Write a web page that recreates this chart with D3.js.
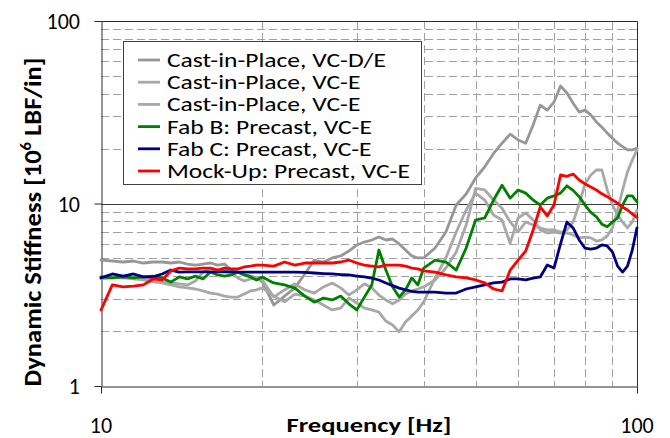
<!DOCTYPE html>
<html><head><meta charset="utf-8">
<script src="https://cdn.jsdelivr.net/npm/d3@7"></script>
<style>html,body{margin:0;padding:0;background:#fff}svg{display:block}</style>
</head><body>
<svg id="c" width="670" height="438"></svg>
<script>
// ---------- data ----------
const freqs = [10,10.5,11,11.5,12,12.5,13,13.5,14,14.5,15,15.5,16,16.5,17,17.5,18,18.5,19,19.5,20,
  21,22,23,24,25,26,27,28,29,30,31,32,33,34,35,36,37,38,39,40,
  42,44,46,48,50,52,54,56,58,60,62,64,66,68,70,72,74,76,78,80,82,84,86,88,90,92,94,96,98,100];

const seriesNames = ["Cast-in-Place, VC-D/E","Cast-in-Place, VC-E","Cast-in-Place, VC-E",
  "Fab B: Precast, VC-E","Fab C: Precast, VC-E","Mock-Up: Precast, VC-E"];
const seriesColors = ["#979797","#a8a8a8","#a8a8a8","#008000","#000080","#ff0000"];

const castDE = [4.90,4.84,4.78,4.84,4.72,4.78,4.78,4.72,4.78,4.66,4.60,4.66,4.72,4.60,4.66,4.32,4.21,4.06,4.01,3.91,3.72,
  2.78,3.11,3.45,4.11,4.90,4.78,5.03,5.16,5.49,5.92,6.15,6.31,6.55,6.31,6.39,6.00,5.56,5.16,5.03,5.03,
  5.70,6.98,9.81,11.27,13.8,15.9,18.8,21.4,24.0,22.3,21.4,26.9,34.6,32.5,35.9,44.0,40.3,35.4,31.7,32.5,30.6,28.0,26.2,24.3,22.8,21.4,20.5,19.65,19.65,20.1];

const castE1 = [3.96,3.96,3.91,3.86,3.81,3.72,3.67,3.58,3.49,3.45,3.40,3.32,3.23,3.19,3.11,3.07,3.07,3.19,3.32,3.36,3.45,
  3.11,2.89,3.19,3.11,2.96,2.78,2.61,2.67,3.03,2.85,2.67,2.61,2.54,2.27,2.16,1.98,2.24,2.42,2.61,2.89,
  3.91,5.03,6.98,9.21,11.4,10.45,8.65,8.12,6.06,8.33,8.88,8.12,7.16,6.89,6.98,6.89,7.16,7.92,9.93,12.8,14.33,15.26,15.26,11.86,9.81,8.65,7.92,7.35,7.92,9.21];

const castE2 = [3.86,3.91,3.91,3.96,3.91,3.81,3.72,3.67,3.63,3.58,3.76,4.21,4.43,4.32,4.32,4.16,3.91,3.76,3.86,3.91,3.81,
  3.07,3.36,3.63,3.36,3.23,3.49,3.67,3.45,3.15,3.36,3.63,3.45,3.15,2.96,2.82,2.96,3.19,3.32,3.40,3.49,
  3.81,4.43,5.42,7.62,12.1,11.86,10.45,9.41,7.92,6.98,7.92,7.62,7.35,7.16,7.16,6.98,6.89,6.72,6.48,6.55,6.48,6.23,6.31,6.64,7.35,9.21,11.86,14.9,17.3,19.65];

const fabB = [3.96,3.91,3.96,3.91,3.96,4.00,3.91,3.71,3.96,3.86,4.00,3.86,4.21,4.06,4.00,4.06,4.21,4.06,3.96,3.81,3.96,
  3.67,3.58,3.44,3.11,2.88,3.03,2.96,3.11,2.82,2.61,3.07,3.58,5.56,4.32,3.49,3.07,3.36,3.91,3.58,4.43,
  4.90,4.78,4.32,5.70,8.12,8.33,10.45,12.6,10.7,11.86,11.4,10.45,9.8,10.7,11.0,11.4,12.5,11.8,10.9,9.8,8.95,8.44,7.7,7.45,7.92,8.33,9.8,11.0,11.0,10.2];

const fabC = [3.91,4.11,4.00,4.11,3.96,3.96,4.11,4.32,4.21,4.22,4.22,4.22,4.22,4.22,4.22,4.22,4.21,4.21,4.21,4.21,4.21,
  4.21,4.21,4.21,4.19,4.16,4.13,4.11,4.08,4.06,4.00,3.96,3.90,3.81,3.67,3.55,3.44,3.36,3.30,3.27,3.27,
  3.27,3.23,3.23,3.40,3.49,3.58,3.67,3.71,3.86,3.86,3.81,3.90,3.96,4.60,4.43,6.00,7.92,7.35,6.31,5.70,5.63,5.70,5.93,5.85,5.42,4.54,4.21,4.54,5.56,7.35];

const mockUp = [2.61,3.58,3.49,3.53,3.58,3.86,3.81,4.27,4.43,4.38,4.38,4.43,4.43,4.32,4.43,4.38,4.38,4.49,4.54,4.60,4.60,
  4.54,4.78,4.60,4.72,4.72,4.72,4.72,4.78,4.90,4.72,4.60,4.54,4.49,4.60,4.60,4.60,4.54,4.43,4.38,4.27,
  4.21,4.06,3.96,3.91,3.81,3.67,3.40,3.32,4.32,4.90,5.49,7.16,9.57,8.55,9.81,14.33,14.1,14.5,13.45,12.8,12.3,11.86,11.3,10.9,10.45,10.05,9.57,9.21,8.76,8.4];

const seriesValues = [castDE, castE1, castE2, fabB, fabC, mockUp];

const xTickValues = [10, 100];
const yTickValues = [1, 10, 100];
const xTitle = "Frequency [Hz]";
const yTitleParts = ["Dynamic Stiffness [10", "6", " LBF/in]"];

// ---------- layout ----------
const FONT = "Carlito, Lato, 'Noto Sans', sans-serif";
const X0 = 101, X1 = 637, Y0 = 386, Y1 = 21;
const svg = d3.select("#c");
const x = d3.scaleLog().domain([10, 100]).range([X0, X1]);
const y = d3.scaleLog().domain([1, 100]).range([Y0, Y1]);
const px = v => Math.round(v) + 0.5;

// grid
const minorX = x.ticks().filter(v => xTickValues.indexOf(v) < 0);
const minorY = y.ticks().filter(v => yTickValues.indexOf(v) < 0);
const grid = svg.append("g");
grid.selectAll("line.gy").data(minorY).join("line").attr("class","gy")
  .attr("x1", X0).attr("x2", X1).attr("y1", d => px(y(d))).attr("y2", d => px(y(d)))
  .attr("stroke", "#a0a0a0").attr("stroke-width", 1).attr("stroke-dasharray", "8,4");
grid.selectAll("line.gx").data(minorX).join("line").attr("class","gx")
  .attr("y1", Y1).attr("y2", Y0).attr("x1", d => px(x(d))).attr("x2", d => px(x(d)))
  .attr("stroke", "#a0a0a0").attr("stroke-width", 1).attr("stroke-dasharray", "8,4");
grid.append("line").attr("x1", X0).attr("x2", X1).attr("y1", px(y(10))).attr("y2", px(y(10)))
  .attr("stroke", "#3a3a3a").attr("stroke-width", 1);

// frame (top/right)
svg.append("path").attr("d", `M${px(X0)},${px(Y1)}H${px(X1)}V${px(Y0)}`)
  .attr("fill", "none").attr("stroke", "#2a2a2a").attr("stroke-width", 1);

// axes
const axL = svg.append("g").attr("transform", `translate(${px(X0)},0)`)
  .call(d3.axisLeft(y).tickValues(yTickValues).tickSize(7).tickSizeOuter(0).tickFormat(""));
const axB = svg.append("g").attr("transform", `translate(0,${px(Y0)})`)
  .call(d3.axisBottom(x).tickValues(xTickValues).tickSize(7).tickSizeOuter(0).tickFormat(""));
[axL, axB].forEach(a => { a.selectAll("path,line").attr("stroke", "#2a2a2a").attr("stroke-width", 1); });

// lines
const line = d3.line().x(d => x(d[0])).y(d => y(d[1]));
const plot = svg.append("g");
seriesValues.forEach((vals, i) => {
  const pts = freqs.map((f, k) => [f, vals[k]]);
  plot.append("path").datum(pts).attr("d", line)
    .attr("fill", "none").attr("stroke", seriesColors[i]).attr("stroke-width", 2.8)
    .attr("stroke-linejoin", "round").attr("stroke-linecap", "round");
});

// tick labels (plain positioned text)
const tl = svg.append("g").attr("font-family", FONT).attr("font-size", 22).attr("fill", "#000");
yTickValues.forEach(v => {
  tl.append("text").text(v).attr("text-anchor", "end").attr("x", 80).attr("y", y(v) + 8);
});
xTickValues.forEach(v => {
  tl.append("text").text(v).attr("text-anchor", "middle").attr("x", x(v)).attr("y", 433);
});

// x title (stretched horizontally like the reference)
const xt = svg.append("text").text(xTitle).attr("font-family", FONT).attr("font-size", 21)
  .attr("font-weight", "bold").attr("text-anchor", "middle");
const xtl = xt.node().getComputedTextLength();
xt.attr("transform", `translate(${(X0 + X1) / 2},432) scale(${165 / xtl},1)`);

// y title
const yt = svg.append("text").attr("font-family", FONT).attr("font-size", 19).attr("font-weight", "bold")
  .attr("text-anchor", "middle");
yt.append("tspan").text(yTitleParts[0]);
yt.append("tspan").text(yTitleParts[1]).attr("font-size", 12).attr("dy", -8);
yt.append("tspan").text(yTitleParts[2]).attr("dy", 8);
const ytl = yt.node().getComputedTextLength();
yt.attr("transform", `translate(41,222) rotate(-90) scale(${329 / ytl},1.25)`);

// legend
const lg = svg.append("g");
lg.append("rect").attr("x", 123.5).attr("y", 41.5).attr("width", 298).attr("height", 143)
  .attr("fill", "#fff").attr("stroke", "#404040").attr("stroke-width", 1);
const tmp2 = lg.append("text").text(seriesNames[5]).attr("font-family", FONT).attr("font-size", 19.5);
const legS = 243 / tmp2.node().getComputedTextLength(); tmp2.remove();
seriesNames.forEach((n, i) => {
  const yc = 60 + i * 22.2;
  lg.append("line").attr("x1", 138).attr("x2", 160).attr("y1", yc).attr("y2", yc)
    .attr("stroke", seriesColors[i]).attr("stroke-width", 2.8);
  lg.append("text").text(n).attr("font-family", FONT).attr("font-size", 19.5)
    .attr("transform", `translate(167,${yc + 7}) scale(${legS},1)`);
});
</script>
</body></html>
